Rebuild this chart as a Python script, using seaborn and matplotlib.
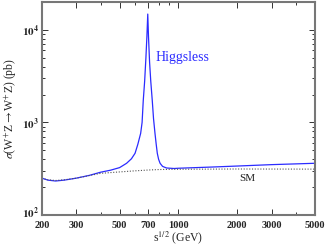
import matplotlib
matplotlib.use("Agg")
import matplotlib.pyplot as plt
import matplotlib.transforms as mtransforms
import seaborn as sns
import pandas as pd
from matplotlib.ticker import FixedLocator, NullFormatter, LogLocator

# Higgsless curve
hl_s = [200, 215, 235, 260, 300, 350, 400, 450, 500, 543, 575, 600, 620, 641, 652,
        661, 672, 682, 690, 697, 703, 712, 722, 735, 746, 759, 770, 780, 792, 806,
        830, 870, 950, 1000, 1500, 2000, 3000, 5000]
hl_sigma = [250, 238, 233, 238, 250, 268, 290, 305, 325, 362, 405, 464, 580, 762, 1000,
            1726, 2800, 5000, 8500, 14800, 8500, 4500, 2800, 1726, 1100, 762, 580, 464, 400, 362,
            335, 322, 318, 320, 330, 338, 350, 362]

# SM curve
sm_s = [200, 215, 235, 260, 300, 400, 500, 600, 700, 800, 1000, 2000, 5000]
sm_sigma = [250, 240, 236, 240, 250, 282, 292, 300, 306, 310, 312, 314, 313]

x_ticks = [200, 300, 500, 700, 1000, 2000, 3000, 5000]
x_ticklabels = ["200", "300", "500", "700", "1000", "2000", "3000", "5000"]
y_ticks = [100, 1000, 10000]
y_ticklabels = [r"$\mathbf{10^2}$", r"$\mathbf{10^3}$", r"$\mathbf{10^4}$"]

sns.set_style("ticks")
plt.rcParams['font.family'] = ['Liberation Serif', 'DejaVu Serif']
plt.rcParams['mathtext.fontset'] = 'stix'

fig = plt.figure(figsize=(3.27, 2.45), dpi=100)
ax = fig.add_axes([0.128, 0.1224, 0.835, 0.8696])

hl = pd.DataFrame({"s": hl_s, "sigma": hl_sigma})
sm = pd.DataFrame({"s": sm_s, "sigma": sm_sigma})
sns.lineplot(data=hl, x="s", y="sigma", ax=ax, color="#2b2bff", lw=0.9)
sns.lineplot(data=sm, x="s", y="sigma", ax=ax, color="#555555", lw=0.8, linestyle=(0, (1, 1.5)))

ax.set_xscale("log")
ax.set_yscale("log")
ax.set_xlim(200, 5000)
ax.set_ylim(100, 20000)

ax.xaxis.set_major_locator(FixedLocator(x_ticks))
ax.set_xticklabels(x_ticklabels, fontweight="bold")
ax.xaxis.set_minor_locator(LogLocator(base=10, subs=range(1, 10)))
ax.xaxis.set_minor_formatter(NullFormatter())
ax.yaxis.set_major_locator(FixedLocator(y_ticks))
ax.set_yticklabels(y_ticklabels, va="center_baseline")
ax.yaxis.set_minor_locator(LogLocator(base=10, subs=range(2, 10)))
ax.yaxis.set_minor_formatter(NullFormatter())

ax.tick_params(which="both", direction="in", top=True, right=True, color="#333333", width=0.7)
ax.tick_params(axis="x", which="major", length=4.5, labelsize=7.5, pad=4)
ax.tick_params(axis="y", which="major", length=4.5, labelsize=8, pad=2)
ax.tick_params(which="minor", length=2.5)

# nudge the lowest y tick label up a little so it clears the "200" label
lab0 = ax.get_yticklabels()[0]
lab0.set_transform(lab0.get_transform() + mtransforms.ScaledTranslation(0, 2 / 72, fig.dpi_scale_trans))

for sp in ax.spines.values():
    sp.set_color("#777777")
    sp.set_linewidth(1.5)

ax.set_xlabel(r"s$^{1/2}$ (GeV)", fontsize=8.5, labelpad=0)
ax.set_ylabel(r"$\sigma$(W$^{+}$Z$\rightarrow$W$^{+}$Z) (pb)", fontsize=8.5, labelpad=2)

ax.text(760, 5000, "Higgsless", color="#2b2bff", fontsize=10, va="center", ha="left")
ax.text(2050, 245, "SM", color="#222222", fontsize=8, va="center", ha="left")

fig.savefig("out.png", dpi=100)
